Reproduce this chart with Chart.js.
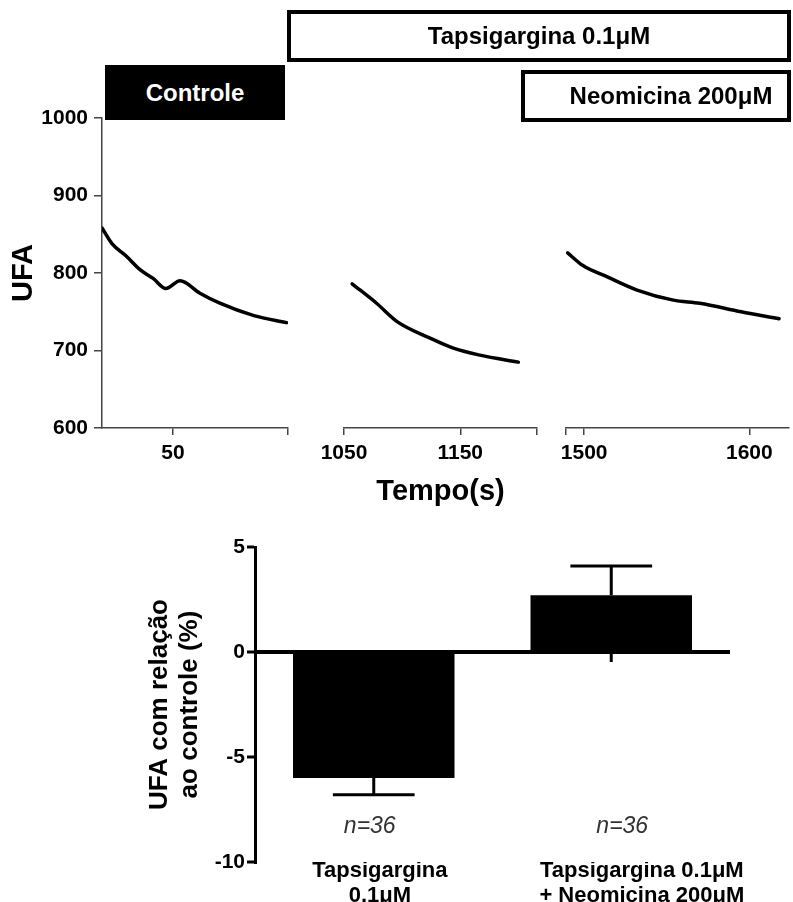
<!DOCTYPE html>
<html>
<head>
<meta charset="utf-8">
<script src="https://cdn.jsdelivr.net/npm/chart.js@4.4.1/dist/chart.umd.min.js"></script>
<style>
  body { margin: 0; background: #fff; }
  #wrap { position: relative; width: 793px; height: 902px; overflow: hidden; font-family: 'Liberation Sans', Arial, sans-serif; }
  canvas { position: absolute; left: 0; top: 0; }
  .caixa { position: absolute; box-sizing: border-box; display: flex; align-items: center; justify-content: center; font-weight: bold; font-size: 24px; color: #000; }
</style>
</head>
<body>
<div id="wrap">
  <canvas id="trecho1" width="793" height="902"></canvas>
  <canvas id="trecho2" width="793" height="902"></canvas>
  <canvas id="trecho3" width="793" height="902"></canvas>
  <canvas id="barras" width="793" height="902"></canvas>
  <div class="caixa" style="left:105px;top:65px;width:180px;height:55px;background:#000;color:#fff;">Controle</div>
  <div class="caixa" style="left:287px;top:10px;width:504px;height:52px;border:4px solid #000;">Tapsigargina 0.1μM</div>
  <div class="caixa" style="left:521px;top:70px;width:270px;height:52px;border:4px solid #000;padding-left:30px;">Neomicina 200μM</div>
</div>
<script>
const FONTE = "'Liberation Sans', Arial, sans-serif";
Chart.defaults.font.family = FONTE;

// tracos de fluorescencia (UFA x tempo em s)
const tempo1 = [0, 7, 17, 27, 36, 45, 55, 69, 83, 107, 130];
const ufa1 = [858, 838, 822, 804, 793, 780, 790, 774, 761, 745, 736];
const tempo2 = [1057, 1078, 1096, 1124, 1144, 1167, 1200];
const ufa2 = [786, 761, 737, 716, 703, 694, 685];
const tempo3 = [1490, 1499, 1514, 1532, 1554, 1570, 1595, 1618];
const ufa3 = [826, 810, 795, 778, 765, 761, 750, 741];
const ufaTicks = [600, 700, 800, 900, 1000];

// ticks com rotulo, marcas de fim de eixo e limites de cada trecho
const rotulos1 = [50], marcas1 = [131], lim1 = [0, 131];
const rotulos2 = [1050, 1150], marcas2 = [1216], lim2 = [1050, 1216];
const rotulos3 = [1500, 1600], marcas3 = [1489], lim3 = [1489, 1624];

// grafico de barras
const grupos = [['Tapsigargina', '0.1μM'], ['Tapsigargina 0.1μM', '+ Neomicina 200μM']];
const variacao = [-6.0, 2.7];
const epm = [0.8, 1.4];
const nAmostras = ['n=36', 'n=36'];
const variacaoTicks = [-10, -5, 0, 5];

let trecho = (id, tempo, ufa, lim, rotulos, marcas, area, eixoY, tituloX) => {
    return new Chart(document.getElementById(id), {
        type: 'line',
        data: {
            datasets: [{
                data: tempo.map((t, i) => ({ x: t, y: ufa[i] })),
                borderColor: '#000',
                borderWidth: 3.5,
                pointRadius: 0,
                cubicInterpolationMode: 'monotone',
                borderCapStyle: 'round',
                borderJoinStyle: 'round'
            }]
        },
        options: {
            responsive: false,
            animation: false,
            layout: { padding: area },
            plugins: { legend: { display: false }, tooltip: { enabled: false } },
            scales: {
                x: {
                    type: 'linear',
                    min: lim[0],
                    max: lim[1],
                    afterFit: s => { s.height = 81; },
                    afterBuildTicks: s => {
                        s.ticks = marcas.concat(rotulos).sort((a, b) => a - b).map(v => ({ value: v }));
                    },
                    ticks: {
                        color: '#000',
                        font: { size: 21, weight: 'bold' },
                        padding: 6,
                        maxRotation: 0,
                        autoSkip: false,
                        callback: v => rotulos.includes(v) ? String(v) : ''
                    },
                    grid: { drawOnChartArea: false, tickLength: 7, color: '#444', lineWidth: 1.5 },
                    border: { color: '#444', width: 1.5 },
                    title: {
                        display: !!tituloX,
                        text: tituloX || '',
                        color: '#000',
                        font: { size: 29, weight: 'bold' },
                        padding: { top: 0, bottom: 0 }
                    }
                },
                y: {
                    display: eixoY,
                    min: 600,
                    max: 1000,
                    afterFit: s => { if (eixoY) s.width = 95; },
                    afterBuildTicks: s => { s.ticks = ufaTicks.map(v => ({ value: v })); },
                    ticks: { color: '#000', font: { size: 21, weight: 'bold' }, padding: 6, callback: v => String(v) },
                    grid: { drawOnChartArea: false, tickLength: 8, color: '#444', lineWidth: 1.5 },
                    border: { color: '#444', width: 1.5 },
                    title: {
                        display: true,
                        text: 'UFA',
                        color: '#000',
                        font: { size: 29, weight: 'bold' },
                        padding: { top: 0, bottom: 0 }
                    }
                }
            }
        }
    });
}

trecho('trecho1', tempo1, ufa1, lim1, rotulos1, marcas1, { left: 7, right: 505, top: 118, bottom: 393 }, true);
trecho('trecho2', tempo2, ufa2, lim2, rotulos2, marcas2, { left: 344, right: 256, top: 118, bottom: 393 }, false, 'Tempo(s)');
trecho('trecho3', tempo3, ufa3, lim3, rotulos3, marcas3, { left: 566, right: 4, top: 118, bottom: 393 }, false);

// deslocamento (em espacos) dos rotulos das categorias, como no original
const recuo = [2, 10];
const desvioN = [-4, 11];

// barras de erro (so para o lado de fora), marcas do eixo x e n de cada grupo
const extras = {
    id: 'extras',
    beforeDatasetsDraw(chart) {
        const { ctx, scales: { x, y } } = chart;
        ctx.save();
        ctx.strokeStyle = '#000';
        ctx.lineWidth = 3;
        variacao.forEach((v, i) => {
            const px = x.getPixelForValue(i);
            ctx.beginPath();
            ctx.moveTo(px, y.getPixelForValue(0));
            ctx.lineTo(px, y.getPixelForValue(0) + 10);
            ctx.stroke();
        });
        ctx.restore();
    },
    afterDatasetsDraw(chart) {
        const { ctx, chartArea, scales: { x, y } } = chart;
        const meta = chart.getDatasetMeta(0);
        ctx.save();
        ctx.strokeStyle = '#000';
        ctx.lineWidth = 3;
        variacao.forEach((v, i) => {
            const px = x.getPixelForValue(i);
            const fim = v >= 0 ? v + epm[i] : v - epm[i];
            const y0 = y.getPixelForValue(v);
            const y1 = y.getPixelForValue(fim);
            const meia = meta.data[i].width * 0.253;
            ctx.beginPath();
            ctx.moveTo(px, y0);
            ctx.lineTo(px, y1);
            ctx.moveTo(px - meia, y1);
            ctx.lineTo(px + meia, y1);
            ctx.stroke();
        });
        ctx.fillStyle = '#333';
        ctx.font = 'italic 23px ' + FONTE;
        ctx.textAlign = 'center';
        ctx.textBaseline = 'middle';
        nAmostras.forEach((n, i) => {
            ctx.fillText(n, x.getPixelForValue(i) + desvioN[i], chartArea.bottom - 35);
        });
        ctx.restore();
    }
};

new Chart(document.getElementById('barras'), {
    type: 'bar',
    data: {
        labels: grupos,
        datasets: [{
            data: variacao,
            backgroundColor: '#000',
            barPercentage: 0.68,
            categoryPercentage: 1,
            borderWidth: 0,
            borderRadius: 0
        }]
    },
    options: {
        responsive: false,
        animation: false,
        layout: { padding: { left: 145, right: 63, top: 547, bottom: 0 } },
        plugins: { legend: { display: false }, tooltip: { enabled: false } },
        scales: {
            x: {
                afterFit: s => { s.height = 40; },
                grid: { display: false },
                border: { display: false },
                ticks: {
                    color: '#000',
                    font: { size: 22, weight: 'bold', lineHeight: '25px' },
                    padding: -12,
                    maxRotation: 0,
                    autoSkip: false,
                    callback: (v, i) => grupos[i].map(s => ' '.repeat(recuo[i]) + s)
                }
            },
            y: {
                z: 1,
                min: -10,
                max: 5,
                afterFit: s => { s.width = 110; },
                afterBuildTicks: s => { s.ticks = variacaoTicks.map(v => ({ value: v })); },
                ticks: { color: '#000', font: { size: 21, weight: 'bold' }, padding: 2 },
                grid: {
                    color: c => (c.tick && c.tick.value === 0) ? '#000' : 'rgba(0,0,0,0)',
                    lineWidth: 4,
                    tickColor: '#000',
                    tickWidth: 3,
                    tickLength: 8
                },
                border: { color: '#000', width: 3 },
                title: {
                    display: true,
                    text: ['UFA com relação', 'ao controle (%)'],
                    color: '#000',
                    font: { size: 26, weight: 'bold', lineHeight: '30px' },
                    padding: { top: 0, bottom: 0 }
                }
            }
        }
    },
    plugins: [extras]
});
</script>
</body>
</html>
